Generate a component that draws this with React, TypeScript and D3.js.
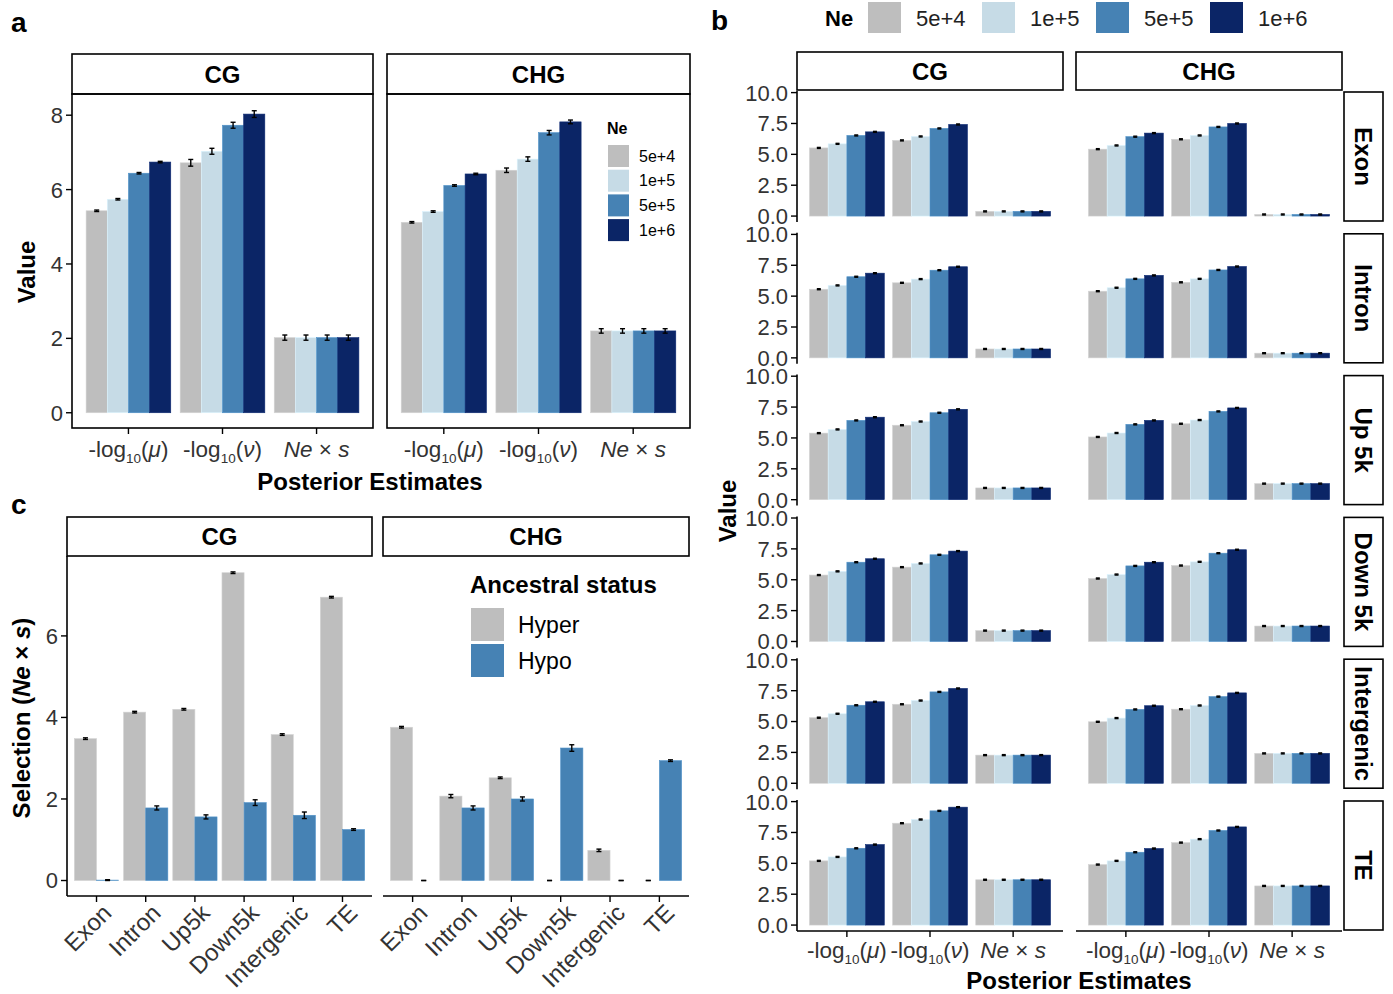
import React from "react";
import * as d3 from "d3";

const W = 1393;
const H = 994;
const FONT = "'Liberation Sans', Arial, Helvetica, sans-serif";
const TICK_COL = "#333333";

// ---------- shared categories ----------
const neLevels = ["5e+4", "1e+5", "5e+5", "1e+6"];
const neColors = ["#BEBEBE", "#C6DBE6", "#4682B4", "#0B2566"];
const paramKeys = ["mu", "nu", "nes"];

// ---------- panel a ----------
const aYTicks = [0, 2, 4, 6, 8];
const aCGMu = [5.43, 5.74, 6.44, 6.74];
const aCGNu = [6.72, 7.03, 7.73, 8.03];
const aCGNes = [2.02, 2.02, 2.02, 2.02];
const aCHGMu = [5.12, 5.41, 6.11, 6.42];
const aCHGNu = [6.52, 6.82, 7.53, 7.82];
const aCHGNes = [2.2, 2.2, 2.2, 2.2];
const aCGMuErr = [0.02, 0.02, 0.02, 0.02];
const aCGNuErr = [0.09, 0.08, 0.08, 0.09];
const aCGNesErr = [0.07, 0.07, 0.07, 0.07];
const aCHGMuErr = [0.02, 0.02, 0.02, 0.02];
const aCHGNuErr = [0.06, 0.06, 0.06, 0.05];
const aCHGNesErr = [0.06, 0.06, 0.06, 0.06];

// ---------- panel b ----------
const bRegions = ["Exon", "Intron", "Up 5k", "Down 5k", "Intergenic", "TE"];
const bYTicks = [0, 2.5, 5, 7.5, 10];
const bCGMu = [
  [5.52, 5.85, 6.53, 6.82],
  [5.56, 5.87, 6.57, 6.86],
  [5.39, 5.69, 6.42, 6.68],
  [5.38, 5.68, 6.42, 6.7],
  [5.31, 5.63, 6.32, 6.6],
  [5.2, 5.52, 6.22, 6.52],
];
const bCGNu = [
  [6.13, 6.45, 7.1, 7.42],
  [6.08, 6.38, 7.1, 7.38],
  [6.03, 6.33, 7.04, 7.32],
  [6.02, 6.32, 7.02, 7.32],
  [6.4, 6.7, 7.4, 7.68],
  [8.25, 8.55, 9.25, 9.55],
];
const bCGNes = [0.38, 0.72, 0.95, 0.88, 2.28, 3.67];
const bCHGMu = [
  [5.42, 5.72, 6.43, 6.72],
  [5.4, 5.68, 6.4, 6.68],
  [5.08, 5.4, 6.1, 6.42],
  [5.1, 5.42, 6.12, 6.42],
  [4.98, 5.28, 5.98, 6.28],
  [4.9, 5.2, 5.9, 6.2],
];
const bCHGNu = [
  [6.22, 6.53, 7.22, 7.5],
  [6.12, 6.4, 7.12, 7.4],
  [6.15, 6.45, 7.15, 7.43],
  [6.15, 6.45, 7.15, 7.43],
  [6.0, 6.3, 7.02, 7.32],
  [6.68, 6.96, 7.66, 7.95],
];
const bCHGNes = [0.13, 0.38, 1.3, 1.25, 2.42, 3.17];
const bErr = 0.04;

// ---------- panel c ----------
const cRegions = ["Exon", "Intron", "Up5k", "Down5k", "Intergenic", "TE"];
const cStatus = ["Hyper", "Hypo"];
const cColors = ["#BEBEBE", "#4682B4"];
const cYTicks = [0, 2, 4, 6];
const cCGHyper = [3.48, 4.13, 4.2, 7.55, 3.58, 6.95];
const cCGHyperErr = [0.02, 0.02, 0.02, 0.02, 0.02, 0.02];
const cCGHypo = [0.01, 1.78, 1.56, 1.91, 1.6, 1.25];
const cCGHypoErr = [0.01, 0.05, 0.05, 0.07, 0.08, 0.02];
const cCHGHyper = [3.76, 2.07, 2.52, 0, 0.74, 0];
const cCHGHyperErr = [0.02, 0.04, 0.02, 0, 0.03, 0];
const cCHGHypo = [0, 1.78, 2.0, 3.25, 0, 2.94];
const cCHGHypoErr = [0, 0.05, 0.05, 0.08, 0, 0.02];

type Scale = d3.ScaleLinear<number, number>;

function GroupBars({
  cx, step, y, vals, errs, colors, whisker,
}: {
  cx: number; step: number; y: Scale; vals: number[]; errs: number[]; colors: string[]; whisker: number;
}) {
  const gw = step * 0.9;
  const bw = gw / vals.length;
  return (
    <g>
      {vals.map((v, i) => {
        const bx = cx - gw / 2 + i * bw;
        const y0 = y(0);
        const y1 = y(v);
        return (
          <rect key={"r" + i} x={bx} y={Math.min(y0, y1)} width={bw}
            height={Math.max(Math.abs(y0 - y1), 0)} fill={colors[i]}
            stroke={v > 0 ? d3.color(colors[i])!.brighter(0.3).formatHex() : "none"} strokeWidth={0.6} />
        );
      })}
      {vals.map((v, i) => {
        const bx = cx - gw / 2 + i * bw + bw / 2;
        const e = errs[i];
        const yl = y(v - e);
        const yh = y(v + e);
        return (
          <g key={"e" + i} stroke="#000" strokeWidth={1.4}>
            <line x1={bx} x2={bx} y1={yl} y2={yh} />
            <line x1={bx - whisker / 2} x2={bx + whisker / 2} y1={yl} y2={yl} />
            <line x1={bx - whisker / 2} x2={bx + whisker / 2} y1={yh} y2={yh} />
          </g>
        );
      })}
    </g>
  );
}

function ParamLabel({ k, x, y, size }: { k: string; x: number; y: number; size: number }) {
  if (k === "nes") {
    return (
      <text x={x} y={y} textAnchor="middle" fontSize={size} fill={TICK_COL} fontFamily={FONT}>
        <tspan fontStyle="italic">Ne</tspan> × <tspan fontStyle="italic">s</tspan>
      </text>
    );
  }
  const sym = k === "mu" ? "μ" : "ν";
  return (
    <text x={x} y={y} textAnchor="middle" fontSize={size} fill={TICK_COL} fontFamily={FONT}>
      -log
      <tspan fontSize={size * 0.6} dy={size * 0.28}>10</tspan>
      <tspan dy={-size * 0.28}>(</tspan>
      <tspan fontStyle="italic">{sym}</tspan>)
    </text>
  );
}

function Strip({ x0, x1, y0, y1, label, size, vertical }: {
  x0: number; x1: number; y0: number; y1: number; label: string; size: number; vertical?: boolean;
}) {
  const cx = (x0 + x1) / 2;
  const cy = (y0 + y1) / 2;
  return (
    <g>
      <rect x={x0} y={y0} width={x1 - x0} height={y1 - y0} fill="#fff" stroke="#000" strokeWidth={1.6} />
      <text x={cx} y={cy} textAnchor="middle" dominantBaseline="central" fontSize={size} fontWeight="bold"
        fontFamily={FONT} transform={vertical ? `rotate(90 ${cx} ${cy})` : undefined}>
        {label}
      </text>
    </g>
  );
}

function PanelA() {
  const top = 94, bottom = 428;
  const y = d3.scaleLinear().domain([-0.41, 8.57]).range([bottom, top]);
  const panels = [
    { name: "CG", x0: 72, x1: 373, vals: [aCGMu, aCGNu, aCGNes], errs: [aCGMuErr, aCGNuErr, aCGNesErr] },
    { name: "CHG", x0: 387, x1: 690, vals: [aCHGMu, aCHGNu, aCHGNes], errs: [aCHGMuErr, aCHGNuErr, aCHGNesErr] },
  ];
  return (
    <g>
      <text x={11} y={32} fontSize={28} fontWeight="bold" fontFamily={FONT}>a</text>
      {panels.map((p, pi) => {
        const x = d3.scalePoint<string>().domain(paramKeys).range([p.x0, p.x1]).padding(0.6);
        return (
          <g key={p.name}>
            <Strip x0={p.x0} x1={p.x1} y0={54} y1={top} label={p.name} size={24} />
            {paramKeys.map((k, ki) => (
              <GroupBars key={k} cx={x(k)!} step={x.step()} y={y} vals={p.vals[ki]} errs={p.errs[ki]}
                colors={neColors} whisker={5} />
            ))}
            <rect x={p.x0} y={top} width={p.x1 - p.x0} height={bottom - top} fill="none" stroke="#000" strokeWidth={1.6} />
            {paramKeys.map((k) => (
              <g key={"t" + k}>
                <line x1={x(k)} x2={x(k)} y1={bottom} y2={bottom + 6} stroke="#000" strokeWidth={1.4} />
                <ParamLabel k={k} x={x(k)!} y={457} size={22.5} />
              </g>
            ))}
            {pi === 0 && aYTicks.map((t) => (
              <g key={"y" + t}>
                <line x1={p.x0 - 6} x2={p.x0} y1={y(t)} y2={y(t)} stroke="#000" strokeWidth={1.4} />
                <text x={p.x0 - 9} y={y(t)} dy="0.36em" textAnchor="end" fontSize={22} fill={TICK_COL} fontFamily={FONT}>{t}</text>
              </g>
            ))}
          </g>
        );
      })}
      {/* legend */}
      <text x={607} y={134} fontSize={16} fontWeight="bold" fontFamily={FONT}>Ne</text>
      {neLevels.map((l, i) => (
        <g key={l}>
          <rect x={608} y={145 + i * 24.7} width={21} height={22} fill={neColors[i]} />
          <text x={639} y={145 + i * 24.7 + 11} dy="0.36em" fontSize={16} fontFamily={FONT}>{l}</text>
        </g>
      ))}
      <text transform={`translate(35 272) rotate(-90)`} textAnchor="middle" fontSize={24} fontWeight="bold" fontFamily={FONT}>Value</text>
      <text x={370} y={490} textAnchor="middle" fontSize={24} fontWeight="bold" fontFamily={FONT}>Posterior Estimates</text>
    </g>
  );
}

function PanelB() {
  const cols = [
    { name: "CG", x0: 797, x1: 1063, mu: bCGMu, nu: bCGNu, nes: bCGNes },
    { name: "CHG", x0: 1076, x1: 1342, mu: bCHGMu, nu: bCHGNu, nes: bCHGNes },
  ];
  const rowTop = (i: number) => 91 + i * 141.8;
  const ph = 131;
  const fmt = d3.format(".1f");
  const errs = neLevels.map(() => bErr);
  return (
    <g>
      <text x={711} y={30} fontSize={28} fontWeight="bold" fontFamily={FONT}>b</text>
      {/* legend */}
      <text x={825} y={18} dy="0.36em" fontSize={22} fontWeight="bold" fontFamily={FONT}>Ne</text>
      {neLevels.map((l, i) => (
        <g key={l}>
          <rect x={868 + i * 114} y={2} width={33} height={31} fill={neColors[i]} />
          <text x={916 + i * 114} y={18} dy="0.36em" fontSize={22} fill="#222" fontFamily={FONT}>{l}</text>
        </g>
      ))}
      {cols.map((c) => (
        <Strip key={"cs" + c.name} x0={c.x0} x1={c.x1} y0={52} y1={90} label={c.name} size={24} />
      ))}
      {bRegions.map((r, ri) => {
        const top = rowTop(ri);
        const bottom = top + ph;
        const y = d3.scaleLinear().domain([-0.48, 10.13]).range([bottom, top]);
        return (
          <g key={r}>
            <Strip x0={1344} x1={1383} y0={top + 1} y1={bottom - 1} label={r} size={24} vertical />
            {cols.map((c) => {
              const x = d3.scalePoint<string>().domain(paramKeys).range([c.x0, c.x1]).padding(0.6);
              const data = [c.mu[ri], c.nu[ri], neLevels.map(() => c.nes[ri])];
              return (
                <g key={c.name}>
                  {paramKeys.map((k, ki) => (
                    <GroupBars key={k} cx={x(k)!} step={x.step()} y={y} vals={data[ki]} errs={errs}
                      colors={neColors} whisker={4} />
                  ))}
                  {ri === bRegions.length - 1 && (
                    <g>
                      <line x1={c.x0} x2={c.x1} y1={bottom} y2={bottom} stroke="#000" strokeWidth={1.6} />
                      {paramKeys.map((k) => (
                        <g key={"bt" + k}>
                          <line x1={x(k)} x2={x(k)} y1={bottom} y2={bottom + 6} stroke="#000" strokeWidth={1.4} />
                          <ParamLabel k={k} x={x(k)!} y={bottom + 27} size={22.5} />
                        </g>
                      ))}
                    </g>
                  )}
                </g>
              );
            })}
            <line x1={797} x2={797} y1={top} y2={bottom} stroke="#000" strokeWidth={1.6} />
            {bYTicks.map((t) => (
              <g key={"y" + t}>
                <line x1={791} x2={797} y1={y(t)} y2={y(t)} stroke="#000" strokeWidth={1.4} />
                <text x={788} y={y(t)} dy="0.36em" textAnchor="end" fontSize={22} fill={TICK_COL} fontFamily={FONT}>{fmt(t)}</text>
              </g>
            ))}
          </g>
        );
      })}
      <text transform={`translate(736 511) rotate(-90)`} textAnchor="middle" fontSize={24} fontWeight="bold" fontFamily={FONT}>Value</text>
      <text x={1079} y={989} textAnchor="middle" fontSize={24} fontWeight="bold" fontFamily={FONT}>Posterior Estimates</text>
    </g>
  );
}

function PanelC() {
  const top = 556, bottom = 896;
  const y = d3.scaleLinear().domain([-0.38, 7.96]).range([bottom, top]);
  const panels = [
    { name: "CG", x0: 67, x1: 372, hyper: cCGHyper, hyperE: cCGHyperErr, hypo: cCGHypo, hypoE: cCGHypoErr },
    { name: "CHG", x0: 383, x1: 689, hyper: cCHGHyper, hyperE: cCHGHyperErr, hypo: cCHGHypo, hypoE: cCHGHypoErr },
  ];
  return (
    <g>
      <text x={11} y={514} fontSize={28} fontWeight="bold" fontFamily={FONT}>c</text>
      {panels.map((p, pi) => {
        const x = d3.scalePoint<string>().domain(cRegions).range([p.x0, p.x1]).padding(0.6);
        return (
          <g key={p.name}>
            <Strip x0={p.x0} x1={p.x1} y0={517} y1={top} label={p.name} size={24} />
            {cRegions.map((r, ri) => (
              <GroupBars key={r} cx={x(r)!} step={x.step()} y={y}
                vals={[p.hyper[ri], p.hypo[ri]]} errs={[p.hyperE[ri], p.hypoE[ri]]}
                colors={cColors} whisker={5} />
            ))}
            <line x1={p.x0} x2={p.x1} y1={bottom} y2={bottom} stroke="#000" strokeWidth={1.6} />
            {pi === 0 && <line x1={p.x0} x2={p.x0} y1={top} y2={bottom} stroke="#000" strokeWidth={1.6} />}
            {cRegions.map((r) => (
              <g key={"t" + r}>
                <line x1={x(r)} x2={x(r)} y1={bottom} y2={bottom + 6} stroke="#000" strokeWidth={1.4} />
                <text transform={`translate(${x(r)! + 4} ${bottom + 6}) rotate(-45)`} textAnchor="end"
                  dominantBaseline="hanging" fontSize={24} fill={TICK_COL} fontFamily={FONT}>{r}</text>
              </g>
            ))}
            {pi === 0 && cYTicks.map((t) => (
              <g key={"y" + t}>
                <line x1={p.x0 - 6} x2={p.x0} y1={y(t)} y2={y(t)} stroke="#000" strokeWidth={1.4} />
                <text x={p.x0 - 9} y={y(t)} dy="0.36em" textAnchor="end" fontSize={22} fill={TICK_COL} fontFamily={FONT}>{t}</text>
              </g>
            ))}
          </g>
        );
      })}
      {/* legend */}
      <text x={470} y={593} fontSize={24} fontWeight="bold" fontFamily={FONT}>Ancestral status</text>
      {cStatus.map((s, i) => (
        <g key={s}>
          <rect x={471} y={608 + i * 36} width={33} height={33} fill={cColors[i]} />
          <text x={518} y={608 + i * 36 + 16.5} dy="0.36em" fontSize={23} fontFamily={FONT}>{s}</text>
        </g>
      ))}
      <text transform={`translate(30 718) rotate(-90)`} textAnchor="middle" fontSize={24} fontWeight="bold" fontFamily={FONT}>
        Selection (<tspan fontStyle="italic">Ne</tspan> × <tspan fontStyle="italic">s</tspan>)
      </text>
    </g>
  );
}

export default function App() {
  return (
    <svg width={W} height={H} viewBox={`0 0 ${W} ${H}`}
      style={{ position: "absolute", left: 0, top: 0, background: "#fff" }} fontFamily={FONT}>
      <rect x={0} y={0} width={W} height={H} fill="#fff" />
      <PanelA />
      <PanelB />
      <PanelC />
    </svg>
  );
}
